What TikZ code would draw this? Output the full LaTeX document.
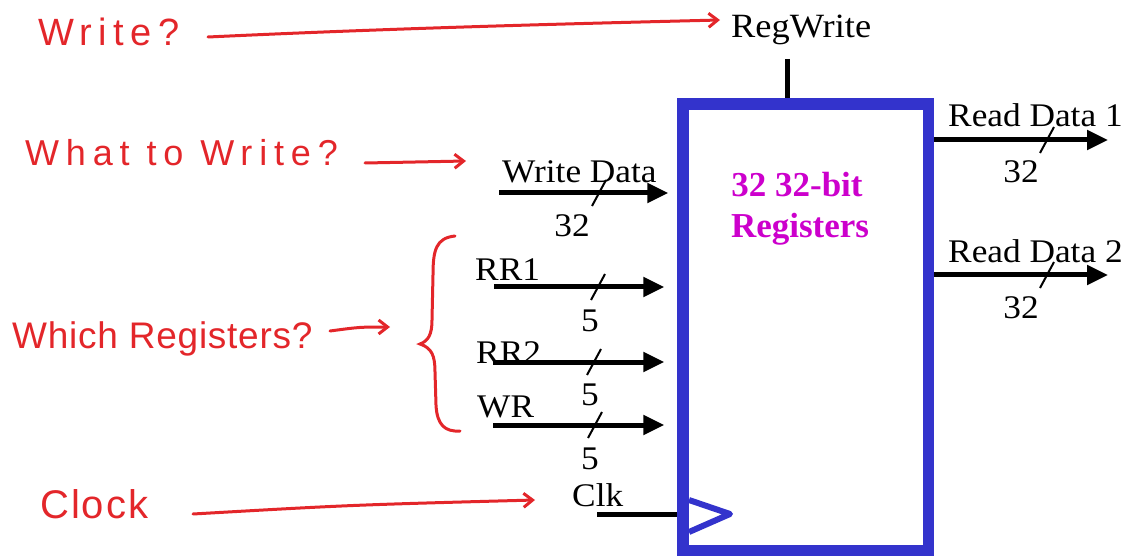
\documentclass[tikz,border=0pt]{standalone}
\usepackage{fontspec}
\setmainfont{Liberation Serif}
\newfontfamily\labelfont[FakeStretch=1.07]{Liberation Serif}
\newfontfamily\hand{Liberation Sans}
\usetikzlibrary{arrows.meta,calc}
\definecolor{regblue}{HTML}{3333CC}
\definecolor{regmag}{HTML}{CC00CC}
\definecolor{note}{HTML}{E3262A}
\tikzset{
  sig/.style={line width=5pt, -{Triangle[length=21pt,width=19pt]}},
  wire/.style={line width=5pt},
  slashmark/.style={line width=2pt},
  lbl/.style={inner sep=0pt, anchor=base west, font=\labelfont\fontsize{33}{36}\selectfont},
  width/.style={inner sep=0pt, anchor=base, font=\labelfont\fontsize{33}{36}\selectfont},
  title/.style={inner sep=0pt, anchor=base, text=regmag, font=\bfseries\fontsize{35}{40}\selectfont},
  notetext/.style={inner sep=0pt, anchor=base west, text=note},
  notearrow/.style={draw=note, line width=3pt, line cap=round, -{Straight Barb[length=9pt,width=14pt,line width=3pt]}}
}
\begin{document}
\begin{tikzpicture}[x=1pt,y=-1pt]
\useasboundingbox (0,0) rectangle (1125,556);

% register file block
\node[draw=regblue, line width=11.5pt, inner sep=0pt,
      minimum width=245.5pt, minimum height=447pt] (reg) at (805.75,327.5) {};
\node[title] (t1) at (797,197) {32 32-bit};
\node[title] (t2) at (800,238) {Registers};

% clock input triangle
\coordinate (ck1) at (689,500);
\coordinate (ck2) at (730,514);
\coordinate (ck3) at (689,532);
\draw[regblue, line width=6pt, line join=round] (ck1) -- (ck2) -- (ck3);

% RegWrite control
\node[inner sep=0pt, anchor=base west, font=\labelfont\fontsize{34}{36}\selectfont] (rwl) at (731,38) {RegWrite};
\coordinate (rw) at (787,59);
\draw[wire] (rw) -- (rw |- reg.north);

% outputs
\coordinate (rd1) at (1108,140);
\coordinate (rd2) at (1108,275);
\draw[sig] (reg.east |- rd1) -- (rd1);
\draw[sig] (reg.east |- rd2) -- (rd2);
\node[lbl] (rd1l) at (948,127) {Read Data 1};
\node[lbl] (rd2l) at (948,263) {Read Data 2};
\draw[slashmark] (1040,153) -- (1054,127);
\draw[slashmark] (1040,288) -- (1054,262);
\node[width] (rd1w) at (1021,183) {32};
\node[width] (rd2w) at (1021,318) {32};

% inputs
\coordinate (wd) at (499,193);
\coordinate (rr1) at (494,287);
\coordinate (rr2) at (493,362);
\coordinate (wr) at (493,425);
\coordinate (clk) at (597,514);
\draw[sig, shorten >=9pt] (wd) -- (wd -| reg.west);
\draw[sig, shorten >=13pt] (rr1) -- (rr1 -| reg.west);
\draw[sig, shorten >=13pt] (rr2) -- (rr2 -| reg.west);
\draw[sig, shorten >=13pt] (wr) -- (wr -| reg.west);
\draw[wire] (clk) -- (clk -| reg.west);

\node[lbl] (wdl) at (502,183) {Write Data};
\node[lbl] (rr1l) at (475,280) {RR1};
\node[lbl] (rr2l) at (476,363) {RR2};
\node[lbl] (wrl) at (477,417) {WR};
\node[lbl] (clkl) at (572,506) {Clk};

\draw[slashmark] (592,206) -- (606,180);
\draw[slashmark] (591,300) -- (605,274);
\draw[slashmark] (587,375) -- (601,349);
\draw[slashmark] (588,438) -- (602,412);
\node[width] (wdw) at (572,237) {32};
\node[width] (rr1w) at (590,331) {5};
\node[width] (rr2w) at (590,405) {5};
\node[width] (wrw) at (590,469) {5};

% handwritten notes
\node[notetext, font=\hand\addfontfeature{LetterSpace=17}\fontsize{38}{40}\selectfont] (n1) at (38,46) {Write?};
\node[notetext, font=\hand\addfontfeature{LetterSpace=19}\fontsize{36}{40}\selectfont] (n2) at (25,166) {What to Write?};
\node[notetext, font=\hand\addfontfeature{LetterSpace=2}\fontsize{37}{40}\selectfont] (n3) at (12,348) {Which Registers?};
\node[notetext, font=\hand\addfontfeature{LetterSpace=5}\fontsize{40}{42}\selectfont] (n4) at (40,518) {Clock};

\coordinate (a1s) at (208,37);
\coordinate (a1e) at (720,20);
\coordinate (a2s) at (365,163);
\coordinate (a2e) at (466,161);
\coordinate (a3s) at (330,331);
\coordinate (a3e) at (390,327);
\coordinate (a4s) at (193,514);
\coordinate (a4e) at (535,500);
\draw[notearrow] (a1s) .. controls (400,28) and (560,24) .. (a1e);
\draw[notearrow] (a2s) -- (a2e);
\draw[notearrow] (a3s) .. controls (360,327) .. (a3e);
\draw[notearrow] (a4s) .. controls (350,505) .. (a4e);

% brace grouping the register-number inputs
\draw[note, line width=3pt, line cap=round]
  (455,236) .. controls (436,238) and (433,250) .. (433,275)
  -- (432,320) .. controls (432,335) and (428,341) .. (420,344)
  .. controls (432,348) and (435,356) .. (435,372)
  -- (436,405) .. controls (437,425) and (445,432) .. (460,431);
\end{tikzpicture}
\end{document}
